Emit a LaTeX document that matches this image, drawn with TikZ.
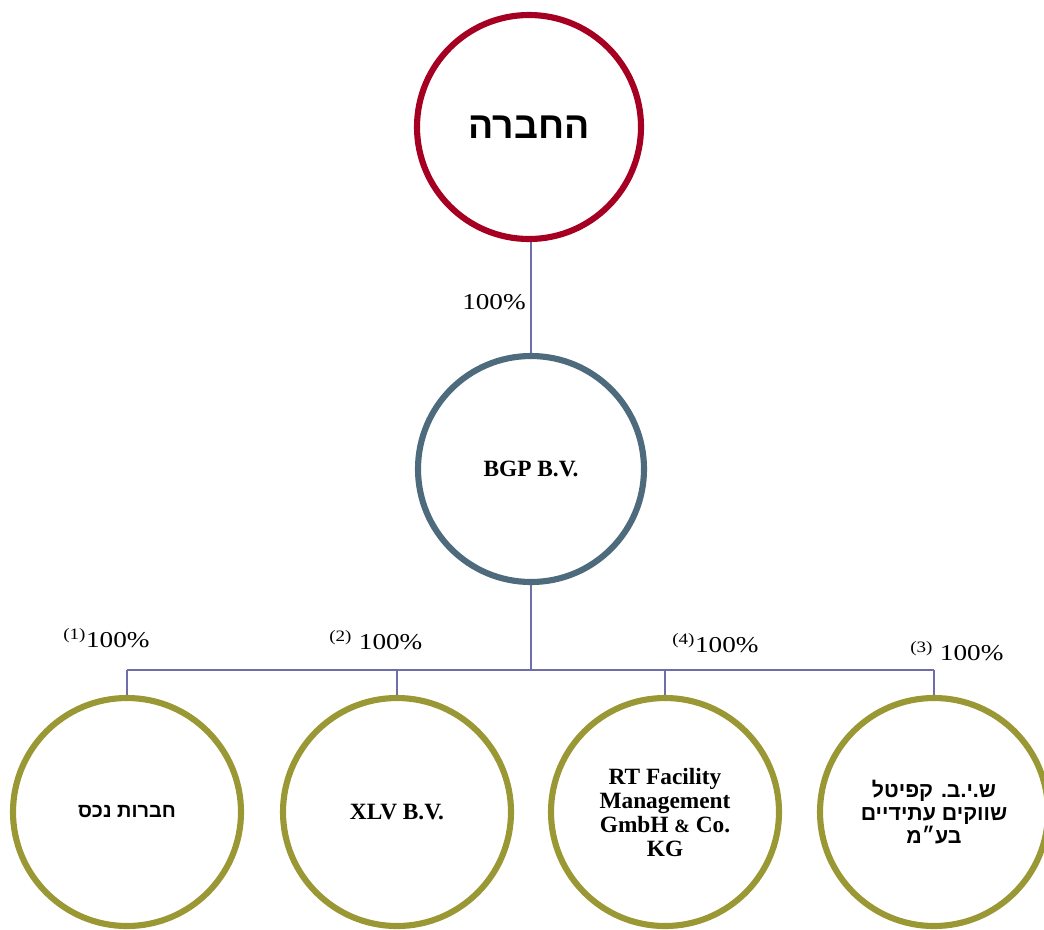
\documentclass[tikz,border=0pt]{standalone}
\usepackage{fontspec}
\setmainfont{Liberation Serif}
\newfontfamily\hebfont[Script=Hebrew]{Liberation Sans}
\newfontfamily\pctfont[FakeStretch=1.2]{Liberation Serif}
\TeXXeTstate=1
\usetikzlibrary{positioning}

\definecolor{topred}{RGB}{165,0,33}
\definecolor{bgpblue}{RGB}{78,106,125}
\definecolor{subolive}{RGB}{154,152,52}
\definecolor{linkblue}{RGB}{112,110,168}

\begin{document}
\begin{tikzpicture}[x=0.75pt,y=-0.75pt,
    firm/.style={circle, draw, line width=4.6pt, inner sep=0pt, align=center},
    sub/.style={firm, draw=subolive, minimum size=171pt},
    link/.style={draw=linkblue, line width=1.5pt},
    pct/.style={font=\pctfont\fontsize{17}{18}\selectfont, inner sep=0pt, anchor=west}]

\useasboundingbox (0,0) rectangle (1044,929);

% company and holding
\node[firm, draw=topred, minimum size=168pt,
      font=\hebfont\bfseries\fontsize{28}{30}\selectfont] (co) at (529,127) {\beginR החברה\endR};
\node[firm, draw=bgpblue, minimum size=169.5pt,
      font=\bfseries\fontsize{17.5}{18}\selectfont] (bgp) at (531,469) {BGP B.V.};

% subsidiaries
\node[sub, font=\hebfont\bfseries\fontsize{15}{18}\selectfont] (s1) at (127,812) {\beginR חברות נכס\endR};
\node[sub, font=\bfseries\fontsize{17.5}{18}\selectfont] (s2) at (397,812) {XLV B.V.};
\node[sub, font=\bfseries\fontsize{17.5}{18}\selectfont] (s3) at (665,812)
    {RT Facility\\Management\\GmbH {\fontsize{14}{18}\selectfont\&} Co.\\KG};
\node[sub, font=\hebfont\bfseries\fontsize{16}{17.5}\selectfont] (s4) at (934,812)
    {\beginR ש.י.ב. קפיטל\endR\\\beginR שווקים עתידיים\endR\\\beginR בע״מ\endR};

% connectors
\coordinate (bus) at (531,670);
\draw[link] (bgp.north |- co.south) -- (bgp.north);
\draw[link] (bgp.south) -- (bus);
\draw[link] (s1.north |- bus) -- (s4.north |- bus);
\foreach \i in {1,...,4}
    \draw[link] (s\i.north |- bus) -- (s\i.north);

% holdings
\node[pct] (p0) at (462,302) {100\%};
\node[pct] (p1) at (63,638) {\textsuperscript{(1)}100\%};
\node[pct] (p2) at (329,640) {\textsuperscript{(2)} 100\%};
\node[pct] (p4) at (672,643) {\textsuperscript{(4)}100\%};
\node[pct] (p3) at (910,651) {\textsuperscript{(3)} 100\%};

\end{tikzpicture}
\end{document}
